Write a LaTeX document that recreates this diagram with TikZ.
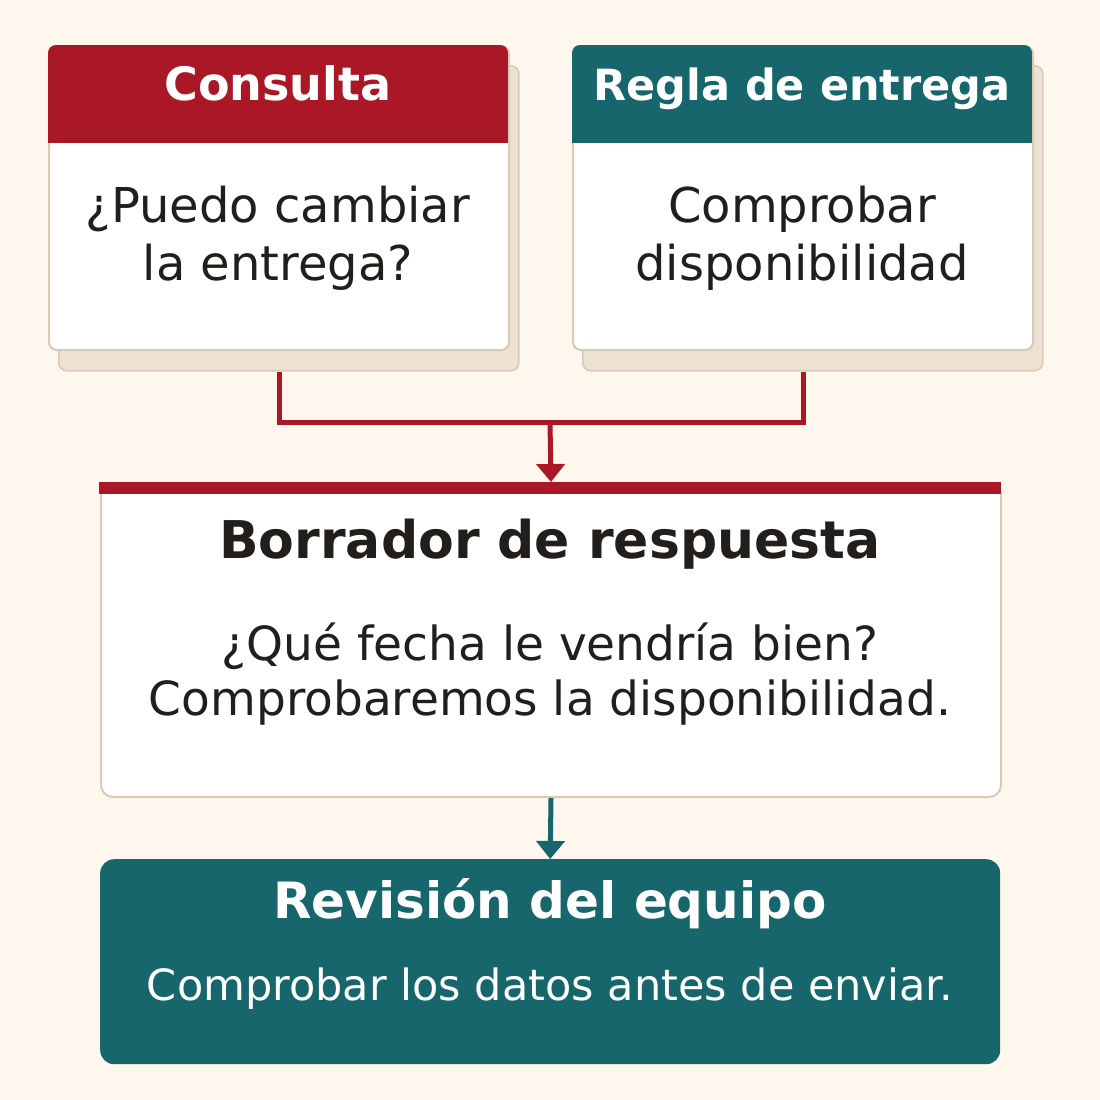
\documentclass[tikz,border=0pt]{standalone}
\usepackage{fontspec}
\setmainfont{DejaVu Sans}
\usetikzlibrary{arrows.meta}
\definecolor{bg}{HTML}{FEF7EE}
\definecolor{accred}{HTML}{AA1827}
\definecolor{accteal}{HTML}{17666B}
\definecolor{edge}{HTML}{D9CAB8}
\definecolor{shade}{HTML}{EDE1D1}
\definecolor{ink}{HTML}{221E1C}
\tikzset{
  card/.style={draw=edge, line width=2pt, fill=white, rounded corners=8pt, inner sep=0pt, anchor=north west},
  cardshadow/.style={draw=edge, line width=1.5pt, fill=shade, rounded corners=8pt, inner sep=0pt, anchor=north west},
  headtxt/.style={text=white, anchor=base, inner sep=0pt, font=\fontsize{46}{54}\selectfont\bfseries},
  bodytxt/.style={text=ink, align=center, anchor=base, inner sep=0pt, font=\fontsize{48}{58}\selectfont},
  link/.style={line width=5pt},
  tip/.style={-{Triangle[width=28pt,length=18pt]}}
}
\begin{document}
\begin{tikzpicture}[x=1pt,y=-1pt]
\fill[bg] (0,0) rectangle (1100,1100);
\useasboundingbox (0,0) rectangle (1100,1100);
% shadows
\node[cardshadow, minimum width=460pt, minimum height=305pt] (qs) at (58,65) {};
\node[cardshadow, minimum width=460pt, minimum height=305pt] (rs) at (582,65) {};
% cards
\node[card, minimum width=460pt, minimum height=304pt] (q) at (48,45) {};
\node[card, minimum width=460pt, minimum height=304pt] (r) at (572,45) {};
\begin{scope}
\clip[rounded corners=8pt] (48,45) rectangle (508,349);
\fill[accred] (48,45) rectangle (508,143);
\end{scope}
\begin{scope}
\clip[rounded corners=8pt] (572,45) rectangle (1032,349);
\fill[accteal] (572,45) rectangle (1032,143);
\end{scope}
\node[headtxt] (qh) at (278,100) {Consulta};
\node[headtxt, font=\fontsize{43}{50}\selectfont\bfseries] (rh) at (802,100) {Regla de entrega};
\node[bodytxt] (qb) at (278,280) {¿Puedo cambiar\\la entrega?};
\node[bodytxt] (rb) at (802,280) {Comprobar\\disponibilidad};
% draft
\node[card, rounded corners=12pt, minimum width=900pt, minimum height=314pt] (d) at (100,482) {};
\fill[accred] (99,482) rectangle (1001,494);
\node[text=ink, anchor=base, inner sep=0pt, font=\fontsize{52}{60}\selectfont\bfseries] (dh) at (550,558) {Borrador de respuesta};
\node[text=ink, align=center, anchor=base, inner sep=0pt, font=\fontsize{47}{55}\selectfont] (db) at (550,715) {¿Qué fecha le vendría bien?\\Comprobaremos la disponibilidad.};
% review
\node[fill=accteal, rounded corners=14pt, inner sep=0pt, anchor=north west, minimum width=900pt, minimum height=205pt] (v) at (100,859) {};
\node[text=white, anchor=base, inner sep=0pt, font=\fontsize{50}{58}\selectfont\bfseries] (vh) at (550,918) {Revisión del equipo};
\node[text=white, anchor=base, inner sep=0pt, font=\fontsize{43}{50}\selectfont] (vb) at (550,1000) {Comprobar los datos antes de enviar.};
% connectors
\coordinate (j) at (550,422);
\draw[link, accred] (q.south |- qs.south) |- (j);
\draw[link, accred] (r.south |- rs.south) |- (j);
\draw[link, accred, tip] (j) -- (d.north);
\draw[link, accteal, tip] (d.south) -- (v.north);
\end{tikzpicture}
\end{document}
